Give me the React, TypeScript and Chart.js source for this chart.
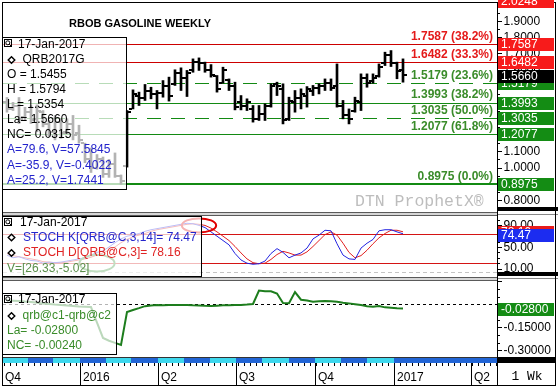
import React, { useEffect, useRef } from 'react';
import { Chart, registerables } from 'chart.js';

Chart.register(...registerables);

// ---------------- data ----------------
const weekDates = [
  '2015-10-08', '2015-10-15', '2015-10-22', '2015-10-29', '2015-11-05', '2015-11-12', '2015-11-19', '2015-11-26', '2015-12-03', '2015-12-10',
  '2015-12-17', '2015-12-24', '2015-12-31', '2016-01-07', '2016-01-14', '2016-01-21', '2016-01-28', '2016-02-04', '2016-02-11', '2016-02-18',
  '2016-02-25', '2016-03-03', '2016-03-10', '2016-03-17', '2016-03-24', '2016-03-31', '2016-04-07', '2016-04-14', '2016-04-21', '2016-04-28',
  '2016-05-05', '2016-05-12', '2016-05-19', '2016-05-26', '2016-06-02', '2016-06-09', '2016-06-16', '2016-06-23', '2016-06-30', '2016-07-07',
  '2016-07-14', '2016-07-21', '2016-07-28', '2016-08-04', '2016-08-11', '2016-08-18', '2016-08-25', '2016-09-01', '2016-09-08', '2016-09-15',
  '2016-09-22', '2016-09-29', '2016-10-06', '2016-10-13', '2016-10-20', '2016-10-27', '2016-11-03', '2016-11-10', '2016-11-17', '2016-11-24',
  '2016-12-01', '2016-12-08', '2016-12-15', '2016-12-22', '2016-12-29', '2017-01-05', '2017-01-12',
];

const openPx = [
  1.40, 1.36, 1.38, 1.31, 1.34, 1.30, 1.34, 1.27, 1.22, 1.28,
  1.22, 1.27, 1.21, 1.15, 1.05, 1.00, 1.05, 0.96, 1.02, 0.95,
  1.01, 1.36, 1.44, 1.43, 1.47, 1.45, 1.46, 1.50, 1.51, 1.58,
  1.55, 1.60, 1.65, 1.64, 1.60, 1.56, 1.52, 1.54, 1.50, 1.40,
  1.38, 1.36, 1.30, 1.33, 1.38, 1.51, 1.48, 1.30, 1.40, 1.43,
  1.44, 1.47, 1.49, 1.50, 1.52, 1.50, 1.38, 1.32, 1.35, 1.40,
  1.55, 1.53, 1.56, 1.64, 1.69, 1.64, 1.60,
];
const highPx = [
  1.43, 1.40, 1.43, 1.37, 1.38, 1.385, 1.35, 1.29, 1.32, 1.30,
  1.30, 1.32, 1.26, 1.15, 1.12, 1.08, 1.065, 1.05, 1.09, 0.955,
  1.350, 1.477, 1.463, 1.510, 1.493, 1.473, 1.534, 1.555, 1.600, 1.612,
  1.596, 1.667, 1.673, 1.647, 1.632, 1.565, 1.616, 1.544, 1.524, 1.442,
  1.422, 1.381, 1.381, 1.391, 1.514, 1.524, 1.514, 1.432, 1.473, 1.483,
  1.497, 1.504, 1.514, 1.544, 1.544, 1.636, 1.412, 1.360, 1.432, 1.575,
  1.575, 1.575, 1.636, 1.708, 1.718, 1.647, 1.667,
];
const lowPx = [
  1.34, 1.35, 1.27, 1.29, 1.27, 1.22, 1.25, 1.19, 1.17, 1.18,
  1.21, 1.17, 1.15, 1.03, 0.97, 0.99, 0.94, 0.94, 0.94, 0.8975,
  1.003, 1.360, 1.381, 1.412, 1.422, 1.360, 1.432, 1.408, 1.504, 1.473,
  1.436, 1.585, 1.596, 1.585, 1.555, 1.463, 1.518, 1.473, 1.354, 1.354,
  1.350, 1.279, 1.289, 1.289, 1.371, 1.442, 1.268, 1.289, 1.340, 1.360,
  1.371, 1.442, 1.452, 1.473, 1.473, 1.371, 1.299, 1.268, 1.340, 1.350,
  1.493, 1.518, 1.555, 1.626, 1.620, 1.545, 1.524,
];
const closePx = [
  1.36, 1.38, 1.30, 1.34, 1.29, 1.35, 1.27, 1.22, 1.28, 1.21,
  1.27, 1.20, 1.17, 1.05, 1.00, 1.05, 0.96, 1.02, 0.95, 0.92,
  1.34, 1.45, 1.43, 1.47, 1.45, 1.46, 1.50, 1.44, 1.58, 1.55,
  1.58, 1.65, 1.64, 1.60, 1.57, 1.48, 1.60, 1.50, 1.37, 1.38,
  1.40, 1.30, 1.33, 1.38, 1.50, 1.50, 1.29, 1.41, 1.43, 1.45,
  1.48, 1.49, 1.50, 1.52, 1.49, 1.38, 1.32, 1.30, 1.41, 1.55,
  1.52, 1.55, 1.62, 1.69, 1.64, 1.59, 1.566,
];

const stochK = [
  35, 30, 32, 28, 25, 24, 20, 22, 21, 22,
  24, 26, 28, 30, 35, 40, 43, 50, 58, 65,
  70, 72, 75, 79, 82, 84, 86, 88, 90, 92,
  94, 93, 90, 86, 78, 70, 62, 54, 38, 26,
  20, 18, 19, 24, 38, 47, 40, 30, 35, 39,
  48, 65, 72, 81, 80, 56, 35, 28, 27, 48,
  57, 64, 80, 82, 82, 78, 74.47,
];
const stochD = [
  38, 34, 32, 30, 28, 26, 23, 22, 21, 21,
  22, 24, 26, 28, 31, 35, 39, 44, 50, 58,
  64, 69, 72, 75, 79, 82, 84, 86, 88, 90,
  92, 93, 92, 90, 85, 78, 70, 62, 51, 39,
  28, 21, 19, 20, 27, 36, 42, 39, 35, 35,
  41, 51, 62, 73, 78, 72, 57, 40, 30, 34,
  44, 56, 67, 75, 81, 81, 78.16,
];
const spreadC1C2 = [
  0.026, 0.024, 0.022, 0.018, 0.015, 0.010, 0.006, 0.002, -0.002, -0.005,
  -0.008, -0.011, -0.014, -0.016, -0.018, -0.120, -0.220, -0.238, -0.252, -0.266,
  -0.050, -0.037, -0.025, -0.012, -0.008, -0.005, -0.006, -0.004, -0.005, -0.005,
  -0.004, -0.007, -0.008, -0.010, -0.011, -0.009, -0.007, -0.006, -0.005, -0.005,
  -0.002, 0.002, 0.090, 0.085, 0.085, 0.070, 0.008, 0.007, 0.080, 0.030,
  0.025, 0.017, 0.020, 0.022, 0.020, 0.017, 0.010, 0.006, 0.001, -0.005,
  -0.012, -0.016, -0.011, -0.020, -0.022, -0.026, -0.028,
];

const fibValues = [1.7587, 1.6482, 1.5179, 1.3993, 1.3035, 1.2077, 0.8975];
const fibPercents = ['38.2%', '33.3%', '23.6%', '38.2%', '50.0%', '61.8%', '0.0%'];
const fibIsUpper = [true, true, false, false, false, false, false];
const fibIsDashed = [false, false, true, false, true, false, false];
const topTagValue = 2.0248;
const lastPrice = 1.566;

const mainTickValues = [0.8, 0.9, 1.0, 1.1, 1.2, 1.3, 1.4, 1.5, 1.6, 1.7, 1.8, 1.9];
const stochTickValues = [10, 50, 90];
const stochBandValues = [75, 20];
const spreadTickValues = [-0.3, -0.15];

const quarterDates = ['2015-10-01', '2016-01-01', '2016-04-01', '2016-07-01', '2016-10-01', '2017-01-01', '2017-04-01'];
const quarterLabels = ['Q4', '2016', 'Q2', 'Q3', 'Q4', '2017', 'Q2'];
const monthStarts = [
  '2015-10-01', '2015-11-01', '2015-12-01', '2016-01-01', '2016-02-01', '2016-03-01', '2016-04-01', '2016-05-01',
  '2016-06-01', '2016-07-01', '2016-08-01', '2016-09-01', '2016-10-01', '2016-11-01', '2016-12-01', '2017-01-01',
];
const firstMonday = '2015-10-05';

const titleText = 'RBOB GASOLINE WEEKLY';
const legendDate = '17-Jan-2017';
const mainSymbol = 'QRB2017G';
const mainRows = ['O = 1.5455', 'H = 1.5794', 'L = 1.5354', 'La= 1.5660', 'NC= 0.0315'];
const mainNotes = ['A=79.6, V=57.5845', 'A=-35.9, V=-0.4022', 'A=25.2, V=1.7441'];
const stochKLabel = 'STOCH K[QRB@C,3,14]= 74.47';
const stochDLabel = 'STOCH D[QRB@C,3]= 78.16';
const stochNote = 'V=[26.33,-5.02]';
const spreadSymbol = 'qrb@c1-qrb@c2';
const spreadRows = ['La= -0.02800', 'NC= -0.00240'];
const redEllipse = { date: '2016-05-19', value: 90, dayRadius: 20, valueRadius: 13 };
const greenEllipse = { date: '2016-01-21', value: 20, dayRadius: 20.5, valueRadius: 15.5 };

// ---------------- layout ----------------
const W = 558, H = 387;
const PL = 3, PR = 497, PT = 3, PB = 357;
const X_MIN = -85 - 14 / 3;
const X_MAX = X_MIN + (494 * 7) / 6;
const PANELS = {
  main: { top: 3, bottom: 211, min: 0.7337, max: 2.0098 },
  stoch: { top: 217, bottom: 276, min: -3.704, max: 105.556 },
  spread: { top: 281, bottom: 357, min: -0.34444, max: 0.15229 },
};
function extend(p: any) {
  const ppu = (p.bottom - p.top) / (p.max - p.min);
  return { min: p.min - (PB - p.bottom) / ppu, max: p.max + (p.top - PT) / ppu };
}

const DAY0 = Date.parse('2016-01-01');
const dayOf = (s: string) => (Date.parse(s) - DAY0) / 864e5;

const SANS = '"Liberation Sans", Arial, sans-serif';
const F12 = '12px ' + SANS;
const MONO = '"Liberation Mono", "Courier New", monospace';

const C_RED_LINE = '#cc0000';
const C_GREEN_LINE = '#138a13';
const C_RED_TXT = '#e41a1a';
const C_GREEN_TXT = '#3a8c2a';
const C_TAG_RED = '#f71b1b';
const C_TAG_GREEN = '#148c14';
const C_BLUE_TXT = '#2424cc';

function hline(ctx: any, x1: number, x2: number, y: number, color: string, width = 1, dash: number[] = []) {
  ctx.save();
  ctx.strokeStyle = color;
  ctx.lineWidth = width;
  ctx.setLineDash(dash);
  const yy = width % 2 === 1 ? Math.round(y) + 0.5 : Math.round(y);
  ctx.beginPath();
  ctx.moveTo(x1, yy);
  ctx.lineTo(x2, yy);
  ctx.stroke();
  ctx.restore();
}
function vline(ctx: any, x: number, y1: number, y2: number, color: string) {
  ctx.save();
  ctx.strokeStyle = color;
  ctx.lineWidth = 1;
  const xx = Math.round(x) + 0.5;
  ctx.beginPath();
  ctx.moveTo(xx, y1);
  ctx.lineTo(xx, y2);
  ctx.stroke();
  ctx.restore();
}
function txt(ctx: any, s: string, x: number, y: number, color: string, font = F12, align = 'left') {
  ctx.fillStyle = color;
  ctx.font = font;
  ctx.textAlign = align;
  ctx.textBaseline = 'middle';
  ctx.fillText(s, x, y);
}
function legendBox(ctx: any, x: number, y: number, w: number, h: number) {
  ctx.save();
  ctx.fillStyle = 'rgba(255,255,255,0.7)';
  ctx.fillRect(x, y, w, h);
  ctx.strokeStyle = '#000';
  ctx.lineWidth = 1;
  ctx.strokeRect(x + 0.5, y + 0.5, w - 1, h - 1);
  ctx.restore();
}
function icon(ctx: any, x: number, y: number) {
  ctx.save();
  ctx.strokeStyle = '#000';
  ctx.lineWidth = 1;
  ctx.strokeRect(x + 0.5, y + 0.5, 7, 7);
  ctx.beginPath();
  ctx.arc(x + 3.8, y + 3.8, 2, 0, Math.PI * 2);
  ctx.moveTo(x + 5.3, y + 5.3);
  ctx.lineTo(x + 7, y + 7);
  ctx.stroke();
  ctx.restore();
}
function diamond(ctx: any, cx: number, cy: number) {
  ctx.save();
  ctx.strokeStyle = '#000';
  ctx.lineWidth = 1.4;
  ctx.beginPath();
  ctx.moveTo(cx, cy - 3.3);
  ctx.lineTo(cx + 3.3, cy);
  ctx.lineTo(cx, cy + 3.3);
  ctx.lineTo(cx - 3.3, cy);
  ctx.closePath();
  ctx.stroke();
  ctx.restore();
}
function tag(ctx: any, y: number, label: string, bg: string) {
  const top = Math.round(y) - 6;
  ctx.fillStyle = bg;
  ctx.fillRect(498, top, 56, 13);
  txt(ctx, label, 501, top + 7, '#fff');
}
function ellipse(ctx: any, xs: any, ys: any, e: any, color: string) {
  const d = dayOf(e.date);
  const cx = xs.getPixelForValue(d);
  const cy = ys.getPixelForValue(e.value);
  const rx = Math.abs(xs.getPixelForValue(d + e.dayRadius) - cx);
  const ry = Math.abs(ys.getPixelForValue(e.value + e.valueRadius) - cy);
  ctx.save();
  ctx.strokeStyle = color;
  ctx.lineWidth = 2;
  ctx.beginPath();
  ctx.ellipse(cx, cy, rx, ry, 0, 0, Math.PI * 2);
  ctx.stroke();
  ctx.restore();
}

const prophetPlugin = {
  id: 'prophet',
  beforeDatasetsDraw(chart: any) {
    const { ctx, scales } = chart;
    const ym = scales.yMain, ys = scales.yStoch, yp = scales.ySpread;
    fibValues.forEach((v, i) => {
      const last = i === fibValues.length - 1;
      hline(ctx, PL, PR, ym.getPixelForValue(v), fibIsUpper[i] ? C_RED_LINE : C_GREEN_LINE, last ? 2 : 1, fibIsDashed[i] ? [14, 10] : []);
    });
    stochBandValues.forEach((v) => hline(ctx, PL, PR, ys.getPixelForValue(v), '#d41414'));
    hline(ctx, PL, PR, ys.getPixelForValue(4), '#c4c4c4', 1, [4, 3]);
    hline(ctx, PL, PR, yp.getPixelForValue(0), '#000', 1, [3, 3]);
  },
  afterDatasetsDraw(chart: any) {
    const { ctx, scales } = chart;
    const xs = scales.x, ym = scales.yMain, ys = scales.yStoch;
    ctx.save();
    ctx.fillStyle = '#000';
    weekDates.forEach((s, i) => {
      const px = Math.round(xs.getPixelForValue(dayOf(s)));
      const yo = Math.round(ym.getPixelForValue(openPx[i]));
      const yc = Math.round(ym.getPixelForValue(closePx[i]));
      ctx.fillRect(px - 4, yo - 1, 3, 2);
      ctx.fillRect(px + 1, yc - 1, 3, 2);
    });
    ctx.restore();
    ellipse(ctx, xs, ys, redEllipse, '#e00000');
    ellipse(ctx, xs, ys, greenEllipse, '#2f8f2f');

    legendBox(ctx, 2, 37, 125, 153);
    icon(ctx, 4, 39);
    txt(ctx, legendDate, 18, 44.5, '#000');
    diamond(ctx, 11.5, 60);
    txt(ctx, mainSymbol, 22.5, 60, '#000');
    mainRows.forEach((r, i) => txt(ctx, r, 7, 75 + i * 15, '#000'));
    mainNotes.forEach((r, i) => txt(ctx, r, 7, 150 + i * 15.2, C_BLUE_TXT));

    legendBox(ctx, 2, 216, 200, 61);
    icon(ctx, 4, 218);
    txt(ctx, legendDate, 20, 222.5, '#000');
    diamond(ctx, 11.5, 237.5);
    txt(ctx, stochKLabel, 23, 237.5, C_BLUE_TXT);
    diamond(ctx, 11.5, 253);
    txt(ctx, stochDLabel, 23, 253, '#e02424');
    txt(ctx, stochNote, 7, 268.5, '#5a8f4a');

    legendBox(ctx, 2, 293, 115, 62);
    icon(ctx, 4, 295);
    txt(ctx, legendDate, 18, 300, '#000');
    diamond(ctx, 11.5, 316);
    txt(ctx, spreadSymbol, 22.5, 316, C_GREEN_TXT);
    spreadRows.forEach((r, i) => txt(ctx, r, 7, 331 + i * 15, C_GREEN_TXT));

    fibValues.forEach((v, i) => {
      const y = ym.getPixelForValue(v);
      txt(ctx, `${v.toFixed(4)} (${fibPercents[i]})`, 493, y - 7.5, fibIsUpper[i] ? C_RED_TXT : C_GREEN_TXT, 'bold ' + F12, 'right');
    });
  },
  afterDraw(chart: any) {
    const { ctx, scales } = chart;
    const xs = scales.x, ym = scales.yMain, ys = scales.yStoch, yp = scales.ySpread;

    txt(ctx, titleText, 140, 23.5, '#000', 'bold 11px ' + SANS, 'center');
    txt(ctx, 'DTN ProphetX\u00ae', 355, 202, '#bdbdbd', '16.5px ' + MONO);

    [212, 277].forEach((y) => {
      ctx.fillStyle = '#d6d6d6';
      ctx.fillRect(PL, y, PR - PL, 4);
      hline(ctx, PL, PR, y, '#5a5a5a');
      hline(ctx, PL, PR, y + 3, '#5a5a5a');
    });
    ctx.fillStyle = '#000';
    ctx.fillRect(PR, 207, W - PR, 4);
    ctx.fillRect(PR, 272, W - PR, 4);
    hline(ctx, PR, W, 214, '#888');
    hline(ctx, PR, W, 278, '#888');

    // frame first, so tags may overlap it
    vline(ctx, PR, 2, 385, '#000');
    ctx.strokeStyle = '#000';
    ctx.lineWidth = 1;
    ctx.strokeRect(2.5, 2.5, 553, 383);

    const inPanel = (y: number, p: any) => y >= p.top && y <= p.bottom - 1;
    for (let i = 15; i <= 40; i++) {
      const y = ym.getPixelForValue(i * 0.05);
      if (inPanel(y, PANELS.main) && i % 2 === 1) hline(ctx, PR, PR + 3, y, '#000');
    }
    mainTickValues.forEach((v) => {
      const y = ym.getPixelForValue(v);
      hline(ctx, PR, PR + 5, y, '#000');
      txt(ctx, v.toFixed(4), 503.5, y + 0.5, '#000');
    });
    tag(ctx, ym.getPixelForValue(topTagValue), topTagValue.toFixed(4), C_TAG_RED);
    fibValues.forEach((v, i) => tag(ctx, ym.getPixelForValue(v), v.toFixed(4), fibIsUpper[i] ? C_TAG_RED : C_TAG_GREEN));
    tag(ctx, ym.getPixelForValue(lastPrice) + 1, lastPrice.toFixed(4), '#000');

    for (let v = 0; v <= 100; v += 10) {
      if (!stochTickValues.includes(v)) hline(ctx, PR, PR + 3, ys.getPixelForValue(v), '#000');
    }
    stochTickValues.forEach((v) => {
      const y = ys.getPixelForValue(v);
      hline(ctx, PR, PR + 5, y, '#000');
      txt(ctx, v.toFixed(2), 503.5, y + 0.5, '#000');
    });
    tag(ctx, ys.getPixelForValue(stochD[stochD.length - 1]), stochD[stochD.length - 1].toFixed(2), '#e81c1c');
    tag(ctx, ys.getPixelForValue(stochK[stochK.length - 1]) + 1.5, stochK[stochK.length - 1].toFixed(2), '#1c2cf0');

    for (let i = -6; i <= 3; i++) {
      const y = yp.getPixelForValue(i * 0.05);
      if (inPanel(y, PANELS.spread)) hline(ctx, PR, PR + (i % 3 === 0 ? 5 : 3), y, '#000');
    }
    spreadTickValues.forEach((v) => {
      const y = yp.getPixelForValue(v);
      txt(ctx, v.toFixed(5), 503.5, y + 0.5, '#000');
    });
    const sLast = spreadC1C2[spreadC1C2.length - 1];
    tag(ctx, yp.getPixelForValue(sLast), sLast.toFixed(5), C_TAG_GREEN);

    const clampX = (x: number) => Math.max(PL, Math.min(PR, x));
    monthStarts.forEach((s, i) => {
      const x1 = clampX(xs.getPixelForValue(dayOf(s)));
      const x2 = i + 1 < monthStarts.length ? clampX(xs.getPixelForValue(dayOf(monthStarts[i + 1]))) : PR;
      ctx.fillStyle = i % 2 === 0 && i + 1 < monthStarts.length ? '#3ed8ee' : '#2265d6';
      ctx.fillRect(Math.round(x1), 358, Math.round(x2) - Math.round(x1), 5);
    });
    hline(ctx, PL, PR, 357, '#333');
    ctx.fillStyle = '#000';
    ctx.fillRect(PR, 357, W - PR - 2, 6);
    for (let d = dayOf(firstMonday); d < X_MAX; d += 7) {
      const x = xs.getPixelForValue(d);
      if (x > PL && x < PR) vline(ctx, x, 363, 366, '#000');
    }
    quarterDates.forEach((s, i) => {
      const x = xs.getPixelForValue(dayOf(s));
      if (x > PL + 2) vline(ctx, x, 363, 385, '#000');
      txt(ctx, quarterLabels[i], Math.max(5, Math.round(x) + 3), 377.5, '#000');
    });
    txt(ctx, '1 Wk', 527, 377, '#000', '13px ' + MONO, 'center');
  },
};

export default function App() {
  const ref = useRef<HTMLCanvasElement>(null);
  useEffect(() => {
    document.body.style.margin = '0';
    const days = weekDates.map(dayOf);
    const em = extend(PANELS.main), es = extend(PANELS.stoch), ep = extend(PANELS.spread);
    const chart = new Chart(ref.current as HTMLCanvasElement, {
      type: 'bar',
      data: {
        datasets: [
          {
            type: 'line', label: 'STOCH K', yAxisID: 'yStoch',
            data: days.map((d, i) => ({ x: d, y: stochK[i] })),
            borderColor: '#2323e0', borderWidth: 1, pointRadius: 0, tension: 0, order: 0,
          } as any,
          {
            type: 'line', label: 'STOCH D', yAxisID: 'yStoch',
            data: days.map((d, i) => ({ x: d, y: stochD[i] })),
            borderColor: '#e02020', borderWidth: 1, pointRadius: 0, tension: 0, order: 1,
          },
          {
            type: 'line', label: 'qrb@c1-qrb@c2', yAxisID: 'ySpread',
            data: days.map((d, i) => ({ x: d, y: spreadC1C2[i] })),
            borderColor: '#1d7d1d', borderWidth: 2, pointRadius: 0, tension: 0, order: 2,
          },
          {
            type: 'bar', label: 'QRB2017G', yAxisID: 'yMain',
            data: days.map((d, i) => ({ x: d, y: [lowPx[i], highPx[i]] })),
            backgroundColor: '#000', borderWidth: 0, barThickness: 2, order: 3,
          },
        ],
      } as any,
      options: {
        responsive: false,
        animation: false,
        events: [],
        layout: { padding: { left: PL, top: PT, right: W - PR, bottom: H - PB } },
        plugins: { legend: { display: false }, tooltip: { enabled: false }, title: { display: false } },
        scales: {
          x: { type: 'linear', min: X_MIN, max: X_MAX, display: false, offset: false },
          y: { display: false },
          yMain: { type: 'linear', min: em.min, max: em.max, display: false },
          yStoch: { type: 'linear', min: es.min, max: es.max, display: false },
          ySpread: { type: 'linear', min: ep.min, max: ep.max, display: false },
        },
      } as any,
      plugins: [prophetPlugin],
    });
    return () => chart.destroy();
  }, []);
  return (
    <div style={{ position: 'fixed', left: 0, top: 0, width: W, height: H, background: '#fff' }}>
      <canvas ref={ref} width={W} height={H} style={{ display: 'block', width: W, height: H }} />
    </div>
  );
}
